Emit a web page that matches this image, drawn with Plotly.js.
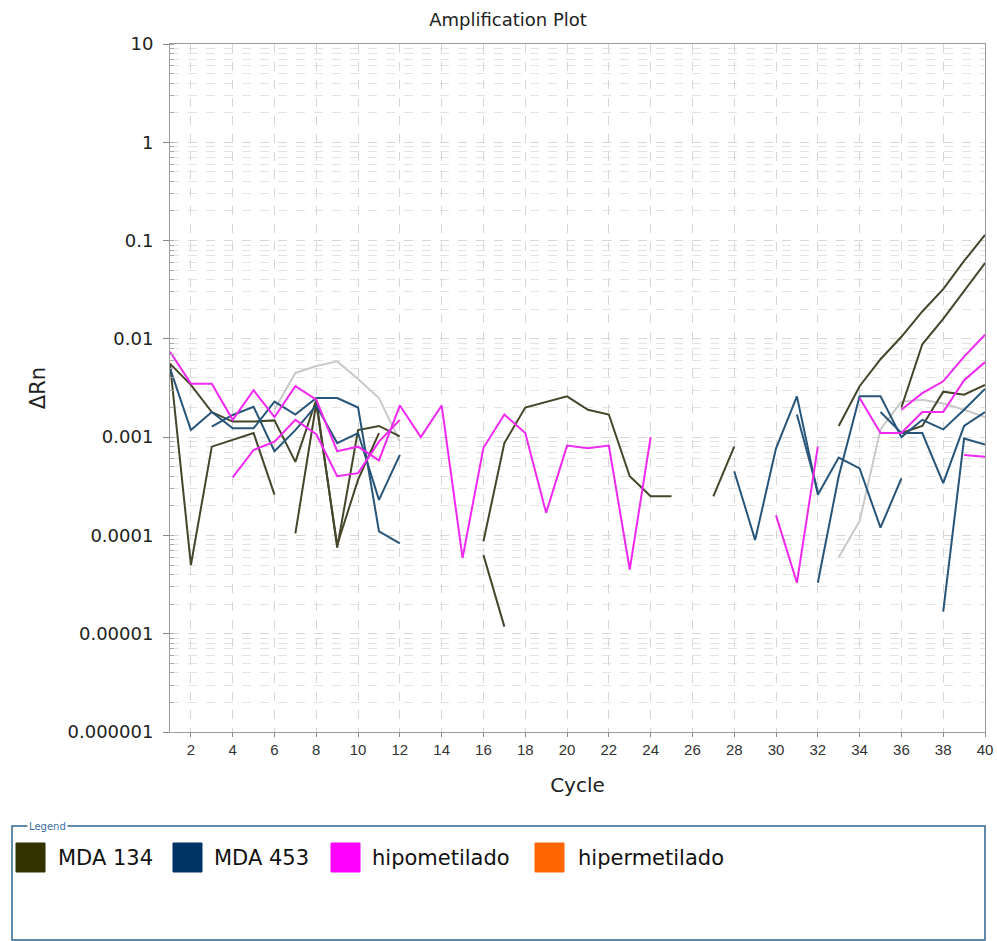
<!DOCTYPE html>
<html>
<head>
<meta charset="utf-8">
<script src="https://cdn.plot.ly/plotly-3.0.1.min.js"></script>
<style>
html,body{margin:0;padding:0;background:#fff;}
#chart{width:997px;height:941px;}
</style>
</head>
<body>
<div id="chart"></div>
<script>
const _ = null;

// ---- categories / ticks ----
const cycles = [1,2,3,4,5,6,7,8,9,10,11,12,13,14,15,16,17,18,19,20,
                21,22,23,24,25,26,27,28,29,30,31,32,33,34,35,36,37,38,39,40];
const xTickVals = [2,4,6,8,10,12,14,16,18,20,22,24,26,28,30,32,34,36,38,40];
const xTickText = ['2','4','6','8','10','12','14','16','18','20','22','24','26','28','30','32','34','36','38','40'];
const yTickVals = [10,1,0.1,0.01,0.001,0.0001,0.00001,0.000001];
const yTickText = ['10','1','0.1','0.01','0.001','0.0001','0.00001','0.000001'];

// ---- legend ----
const legendNames  = ['MDA 134','MDA 453','hipometilado','hipermetilado'];
const legendColors = ['#333300','#003366','#ff00ff','#ff6600'];

// ---- MDA 134 wells (ΔRn per cycle, null = not drawn) ----
const o1 = [.0056,.00005,.0008,.00093,.0011,.00026,_,_,_,_,
            _,_,_,_,_,_,_,_,_,_,
            _,_,_,_,_,_,_,_,_,_,
            _,_,_,_,_,_,_,_,_,_];
const o2 = [.0056,.0034,.0018,.00144,.00144,.00148,.00056,.0024,.000075,.00118,
            .0013,.00102,_,_,_,_,_,_,_,_,
            _,_,_,_,_,_,_,_,_,_,
            _,_,_,_,_,_,_,_,_,_];
const o3 = [_,_,_,_,_,_,.000105,.0022,.00008,.00037,
            .0011,_,_,_,_,_,_,_,_,_,
            _,_,_,_,_,_,_,_,_,_,
            _,_,_,_,_,_,_,_,_,_];
const o4 = [_,_,_,_,_,_,_,_,_,_,
            _,_,_,_,_,.000087,.00087,.002,.0023,.0026,
            .0019,.0017,.0004,.00025,.00025,_,.00025,.0008,_,_,
            _,_,_,_,_,_,_,_,_,_];
const o5 = [_,_,_,_,_,_,_,_,_,_,
            _,_,_,_,_,.000063,.0000118,_,_,_,
            _,_,_,_,_,_,_,_,_,_,
            _,_,_,_,_,_,_,_,_,_];
const o6 = [_,_,_,_,_,_,_,_,_,_,
            _,_,_,_,_,_,_,_,_,_,
            _,_,_,_,_,_,_,_,_,_,
            _,_,.0013,.0033,.0062,.0105,.019,.032,.062,.114];
const o7 = [_,_,_,_,_,_,_,_,_,_,
            _,_,_,_,_,_,_,_,_,_,
            _,_,_,_,_,_,_,_,_,_,
            _,_,_,_,_,.002,.0088,.016,.031,.059];
const o8 = [_,_,_,_,_,_,_,_,_,_,
            _,_,_,_,_,_,_,_,_,_,
            _,_,_,_,_,_,_,_,_,_,
            _,_,_,_,_,.0011,.0013,.0029,.0027,.0034];

// ---- MDA 453 wells ----
const n1 = [.005,.00118,.0018,.00123,.00123,.0023,.0017,.0025,.0025,.002,
            .00011,.000083,_,_,_,_,_,_,_,_,
            _,_,_,_,_,_,_,_,_,_,
            _,_,_,_,_,_,_,_,_,_];
const n2 = [_,_,.00128,.00168,.00204,.00072,.00118,.0021,.00087,.0011,
            .00023,.00066,_,_,_,_,_,_,_,_,
            _,_,_,_,_,_,_,_,_,_,
            _,_,_,_,_,_,_,_,_,_];
const n3 = [_,_,_,_,_,_,_,_,_,_,
            _,_,_,_,_,_,_,_,_,_,
            _,_,_,_,_,_,_,.00045,.00009,.00077,
            .0026,.00026,.00062,.00048,.00012,.00038,_,_,_,_];
const n4 = [_,_,_,_,_,_,_,_,_,_,
            _,_,_,_,_,_,_,_,_,_,
            _,_,_,_,_,_,_,_,_,_,
            .0017,.00028,_,_,_,_,_,_,_,_];
const n5 = [_,_,_,_,_,_,_,_,_,_,
            _,_,_,_,_,_,_,_,_,_,
            _,_,_,_,_,_,_,_,_,_,
            _,.000033,.0004,.0026,.0026,.001,.0015,.0012,.0019,.0031];
const n6 = [_,_,_,_,_,_,_,_,_,_,
            _,_,_,_,_,_,_,_,_,_,
            _,_,_,_,_,_,_,_,_,_,
            _,_,_,_,.0018,.0011,.0011,.00034,.0013,.0018];
const n7 = [_,_,_,_,_,_,_,_,_,_,
            _,_,_,_,_,_,_,_,_,_,
            _,_,_,_,_,_,_,_,_,_,
            _,_,_,_,_,_,_,.0000168,.00097,.00084];

// ---- hipometilado wells ----
const m1 = [.0074,.0035,.0035,.0015,.003,.0016,.0033,.0024,.00072,.0008,
            .00058,.0021,.001,.0021,.000059,.00078,.0017,.0011,.00017,.00082,
            .00077,.00082,.000045,.001,_,_,_,_,_,_,
            _,_,_,_,_,_,_,_,_,_];
const m2 = [_,_,_,.00039,.00074,.0009,.0015,.00107,.0004,.00043,
            .0009,.0015,_,_,_,_,_,_,_,_,
            _,_,_,_,_,_,_,_,_,_,
            _,_,_,_,_,_,_,_,_,_];
const m3 = [_,_,_,_,_,_,_,_,_,_,
            _,_,_,_,_,_,_,_,_,_,
            _,_,_,_,_,_,_,_,_,.00016,
            .000033,.0008,_,_,_,_,_,_,_,_];
const m4 = [_,_,_,_,_,_,_,_,_,_,
            _,_,_,_,_,_,_,_,_,_,
            _,_,_,_,_,_,_,_,_,_,
            _,_,_,.0025,.0011,.0011,.0018,.0018,.0038,.0058];
const m5 = [_,_,_,_,_,_,_,_,_,_,
            _,_,_,_,_,_,_,_,_,_,
            _,_,_,_,_,_,_,_,_,_,
            _,_,_,_,_,.0019,.0028,.0037,.0066,.011];
const m6 = [_,_,_,_,_,_,_,_,_,_,
            _,_,_,_,_,_,_,_,_,_,
            _,_,_,_,_,_,_,_,_,_,
            _,_,_,_,_,_,_,_,.00066,.00063];

// ---- unassigned (grey) wells ----
const g1 = [_,_,_,_,_,.0019,.0045,.0053,.0059,.0039,
            .0025,.0009,_,_,_,_,_,_,_,_,
            _,_,_,_,_,_,_,_,_,_,
            _,_,_,_,_,_,_,_,_,_];
const g2 = [_,_,_,_,_,_,_,_,_,_,
            _,_,_,_,_,_,_,_,_,_,
            _,_,_,_,_,_,_,_,_,_,
            _,_,.00006,.00014,.0012,.0023,.0024,.0022,.0019,.0016];

const greySeries = [g1,g2];
const mda134Series = [o1,o2,o3,o4,o5,o6,o7,o8];
const mda453Series = [n1,n2,n3,n4,n5,n6,n7];
const hipoSeries = [m1,m2,m3,m4,m5,m6];
const hiperSeries = [];

const lineColors = {grey:'#c9c9c9', mda134:'#45452a', mda453:'#265579', hipo:'#f028f0', hiper:'#ff6600'};

const traces = [];
function addGroup(list, color){
  list.forEach(arr => traces.push({
    x: cycles, y: arr, type:'scatter', mode:'lines',
    line:{color:color, width:2}, showlegend:false, hoverinfo:'skip', connectgaps:false
  }));
}
addGroup(greySeries, lineColors.grey);
addGroup(hiperSeries, lineColors.hiper);
addGroup(mda134Series, lineColors.mda134);
addGroup(mda453Series, lineColors.mda453);
addGroup(hipoSeries, lineColors.hipo);

// ---- page geometry (pixels) ----
const W = 997, H = 941;
const PL = 170, PR = 985, PT = 44, PB = 732;
const px2x = p => (p - PL) / (PR - PL);
const px2y = p => (PB - p) / (PB - PT);

const shapes = [];
const annotations = [];

// legend frame
shapes.push({type:'rect', xref:'paper', yref:'paper',
  x0:px2x(12), x1:px2x(985), y0:px2y(940), y1:px2y(826),
  line:{color:'#2f6690', width:1.5}, fillcolor:'rgba(0,0,0,0)', layer:'above'});
annotations.push({xref:'paper', yref:'paper', x:px2x(27), y:px2y(826),
  xanchor:'left', yanchor:'middle', text:'Legend', showarrow:false,
  font:{family:'DejaVu Sans, Arial', size:10, color:'#3a6ea5'}, bgcolor:'#ffffff', borderpad:1});

const swatchX = [16, 173, 331, 535];
const labelX  = [56, 212, 370, 576];
legendNames.forEach((name, i) => {
  shapes.push({type:'rect', xref:'paper', yref:'paper',
    x0:px2x(swatchX[i]), x1:px2x(swatchX[i]+29), y0:px2y(872), y1:px2y(843),
    fillcolor:legendColors[i], line:{color:legendColors[i], width:1}, layer:'above'});
  annotations.push({xref:'paper', yref:'paper', x:px2x(labelX[i]), y:px2y(858),
    xanchor:'left', yanchor:'middle', text:name, showarrow:false,
    font:{family:'DejaVu Sans, Arial', size:21, color:'#111111'}});
});

const gridColor = '#d6d6d6';

const layout = {
  width: W, height: H,
  margin:{l:PL, r:W-PR, t:PT, b:H-PB, pad:0},
  paper_bgcolor:'#ffffff', plot_bgcolor:'#ffffff',
  showlegend:false,
  title:{text:'Amplification Plot', x:508/W, xref:'container', xanchor:'center',
         y:1-20/H, yref:'container', yanchor:'middle',
         font:{family:'DejaVu Sans, Arial', size:18, color:'#222222'}},
  xaxis:{
    range:[1,40], tickmode:'array', tickvals:xTickVals, ticktext:xTickText,
    ticks:'outside', ticklen:4, tickcolor:'#888888',
    showline:true, linecolor:'#9a9a9a', linewidth:1, mirror:true,
    showgrid:true, gridcolor:gridColor, griddash:'dash', gridwidth:1,
    zeroline:false,
    tickfont:{family:'Liberation Sans Narrow, Arial Narrow, Liberation Sans, Arial', size:15, color:'#333333'},
    title:{text:'Cycle', font:{family:'DejaVu Sans, Arial', size:20, color:'#222222'}, standoff:20}
  },
  yaxis:{
    type:'log', range:[-6,1], tickmode:'array', tickvals:yTickVals, ticktext:yTickText,
    ticks:'outside', ticklen:6, tickcolor:'#888888',
    showline:true, linecolor:'#9a9a9a', linewidth:1, mirror:true,
    showgrid:true, gridcolor:gridColor, griddash:'dash', gridwidth:1,
    zeroline:false, ticklabelstandoff:6,
    minor:{dtick:'D1', showgrid:true, gridcolor:'#e3e3e3', griddash:'dash', gridwidth:1,
           ticks:'inside', ticklen:4, tickcolor:'#aaaaaa'},
    tickfont:{family:'DejaVu Sans, Arial', size:18, color:'#222222'},
    title:{text:'ΔRn', font:{family:'DejaVu Sans, Arial', size:21, color:'#222222'}, standoff:16}
  },
  shapes: shapes,
  annotations: annotations
};

Plotly.newPlot('chart', traces, layout, {staticPlot:true, displayModeBar:false});
</script>
</body>
</html>
